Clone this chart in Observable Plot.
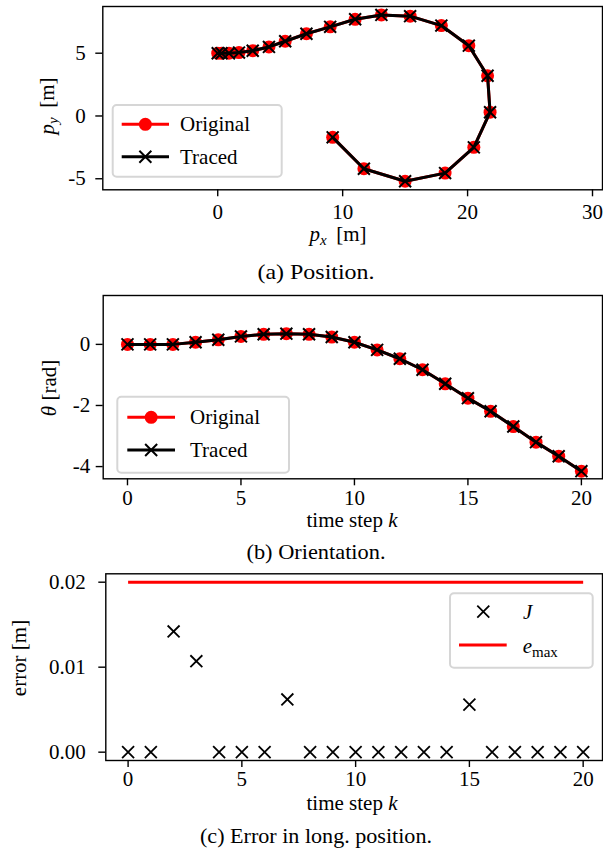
<!DOCTYPE html>
<html><head><meta charset="utf-8">
<script src="https://cdn.jsdelivr.net/npm/d3@7"></script>
<script src="https://cdn.jsdelivr.net/npm/@observablehq/plot@0.6"></script>
<style>
body{margin:0;background:#fff;}
#wrap{position:relative;width:603px;height:851px;overflow:hidden;background:#fff;}
#wrap > svg{position:absolute;left:0;}
#wrap svg text{font-family:"Liberation Serif","Times New Roman",serif;}
</style></head><body><div id="wrap"></div>
<script>
// ---------- data ----------
const steps = [0,1,2,3,4,5,6,7,8,9,10,11,12,13,14,15,16,17,18,19,20];
const origPx   = [0, 0.3, 0.9, 1.7, 2.8, 4.1, 5.4, 7.1, 9.0, 11.0, 13.1, 15.4, 17.9, 20.1, 21.6, 21.8, 20.5, 18.2, 15.0, 11.7, 9.2];
const origPy   = [5.0, 5.0, 5.0, 5.05, 5.2, 5.5, 5.95, 6.55, 7.1, 7.7, 8.05, 7.95, 7.2, 5.6, 3.2, 0.3, -2.5, -4.55, -5.2, -4.2, -1.7];
const tracedPx = [0, 0.3, 0.9, 1.7, 2.8, 4.1, 5.4, 7.1, 9.0, 11.0, 13.1, 15.4, 17.9, 20.1, 21.6, 21.8, 20.5, 18.2, 15.0, 11.7, 9.2];
const tracedPy = [5.0, 5.0, 5.0, 5.05, 5.2, 5.5, 5.95, 6.55, 7.1, 7.7, 8.05, 7.95, 7.2, 5.6, 3.2, 0.3, -2.5, -4.55, -5.2, -4.2, -1.7];
const origTheta   = [0, 0, 0, 0.07, 0.15, 0.26, 0.33, 0.35, 0.33, 0.24, 0.07, -0.18, -0.47, -0.83, -1.29, -1.76, -2.19, -2.69, -3.2, -3.66, -4.15];
const tracedTheta = [0, 0, 0, 0.07, 0.15, 0.26, 0.33, 0.35, 0.33, 0.24, 0.07, -0.18, -0.47, -0.83, -1.29, -1.76, -2.19, -2.69, -3.2, -3.66, -4.15];
const errorJ = [0, 0, 0.0142, 0.0107, 0, 0, 0, 0.0062, 0, 0, 0, 0, 0, 0, 0, 0.0056, 0, 0, 0, 0, 0];
const eMaxK = [0, 20];
const eMaxVal = [0.02, 0.02];
const pxTicks = [0, 10, 20, 30];
const pyTicks = [-5, 0, 5];
const kTicks = [0, 5, 10, 15, 20];
const thetaTicks = [-4, -2, 0];
const errTicks = [0, 0.01, 0.02];
const legendPos = ["Original", "Traced"];
const legendErr = ["J", "e", "max"];
const captions = ["(a) Position.", "(b) Orientation.", "(c) Error in long. position."];

// ---------- tables ----------
const origPos = steps.map((k, i) => ({k, px: origPx[i], py: origPy[i]}));
const tracedPos = steps.map((k, i) => ({k, px: tracedPx[i], py: tracedPy[i]}));
const origTh = steps.map((k, i) => ({k, th: origTheta[i]}));
const tracedTh = steps.map((k, i) => ({k, th: tracedTheta[i]}));
const errData = steps.map((k, i) => ({k, e: errorJ[i]}));
const eMaxData = eMaxK.map((k, i) => ({k, e: eMaxVal[i]}));

const FONT = '"Liberation Serif", "Times New Roman", serif';
const FS = 21;
const wrap = document.getElementById("wrap");
const style = {fontFamily: FONT, fontSize: FS + "px", background: "transparent", overflow: "visible", color: "black"};
const fmtInt = d => String(d);
const ax = {tickSize: 7, fontSize: FS, fontFamily: FONT, label: null, strokeWidth: 1.4};

function place(svg, top) { svg.style.top = top + "px"; wrap.appendChild(svg); }

// ---------- (a) position ----------
const p1 = Plot.plot({
  width: 603, height: 260,
  marginTop: 6, marginBottom: 70.7, marginLeft: 102.3, marginRight: 1,
  style,
  x: {domain: [-9.2, 30.8]},
  y: {domain: [-5.88, 8.72]},
  marks: [
    Plot.line(origPos, {x: "px", y: "py", stroke: "red", strokeWidth: 3}),
    Plot.dot(origPos, {x: "px", y: "py", r: 6.5, fill: "red"}),
    Plot.line(tracedPos, {x: "px", y: "py", stroke: "black", strokeWidth: 3}),
    Plot.dot(tracedPos, {x: "px", y: "py", symbol: "times", r: 5.5, stroke: "black", strokeWidth: 2}),
    Plot.frame({stroke: "black", strokeWidth: 1.4}),
    Plot.axisX({...ax, ticks: pxTicks, tickPadding: 7, tickFormat: fmtInt}),
    Plot.axisY({...ax, ticks: pyTicks, tickPadding: 10, tickFormat: fmtInt})
  ]
});
place(p1, 0);

// ---------- (b) orientation ----------
const p2 = Plot.plot({
  width: 603, height: 260,
  marginTop: 10, marginBottom: 66.7, marginLeft: 102.7, marginRight: 1,
  style,
  x: {domain: [-1.07, 20.93]},
  y: {domain: [-4.4, 1.6]},
  marks: [
    Plot.line(origTh, {x: "k", y: "th", stroke: "red", strokeWidth: 3}),
    Plot.dot(origTh, {x: "k", y: "th", r: 6.5, fill: "red"}),
    Plot.line(tracedTh, {x: "k", y: "th", stroke: "black", strokeWidth: 3}),
    Plot.dot(tracedTh, {x: "k", y: "th", symbol: "times", r: 5.5, stroke: "black", strokeWidth: 2}),
    Plot.frame({stroke: "black", strokeWidth: 1.4}),
    Plot.axisX({...ax, ticks: kTicks, tickPadding: 4, tickFormat: fmtInt}),
    Plot.axisY({...ax, ticks: thetaTicks, tickPadding: 6, tickFormat: fmtInt})
  ]
});
place(p2, 285);

// ---------- (c) error ----------
const p3 = Plot.plot({
  width: 603, height: 260,
  marginTop: 8.3, marginBottom: 65, marginLeft: 105.3, marginRight: 1,
  style,
  x: {domain: [-0.98, 20.85]},
  y: {domain: [-0.00098, 0.020988]},
  marks: [
    Plot.dot(errData, {x: "k", y: "e", symbol: "times", r: 5.5, stroke: "black", strokeWidth: 1.8}),
    Plot.line(eMaxData, {x: "k", y: "e", stroke: "red", strokeWidth: 3, strokeLinecap: "butt"}),
    Plot.frame({stroke: "black", strokeWidth: 1.4}),
    Plot.axisX({...ax, ticks: kTicks, tickPadding: 4, tickFormat: fmtInt}),
    Plot.axisY({...ax, ticks: errTicks, tickPadding: 13, tickFormat: d3.format(".2f")})
  ]
});
place(p3, 565);

// ---------- overlay: labels, legends, captions ----------
const ov = d3.create("svg").attr("width", 603).attr("height", 851)
  .style("top", "0px").style("pointer-events", "none")
  .attr("font-family", FONT).attr("font-size", FS).attr("fill", "black");

function label(x, y, rot, parts, anchor = "middle") {
  const t = ov.append("text").attr("text-anchor", anchor)
    .attr("transform", `translate(${x},${y})` + (rot ? ` rotate(${rot})` : ""));
  parts.forEach(p => {
    const s = t.append("tspan").text(p.t);
    if (p.it) s.attr("font-style", "italic");
    if (p.fs) s.attr("font-size", p.fs);
    if (p.dy) s.attr("dy", p.dy);
  });
  return t;
}

// axis labels
label(54, 106, -90, [{t: "p", it: true}, {t: "y", it: true, fs: 15, dy: 4}, {t: "\u2009 [m]", dy: -4}]);
label(338, 241, 0, [{t: "p", it: true}, {t: "x", it: true, fs: 15, dy: 4}, {t: "\u2009 [m]", dy: -4}]);
label(56, 388, -90, [{t: "θ", it: true}, {t: " [rad]"}]);
label(352, 527, 0, [{t: "time step "}, {t: "k", it: true}]);
label(26, 658, -90, [{t: "error [m]"}]);
label(352, 810, 0, [{t: "time step "}, {t: "k", it: true}]);

// captions
const capW = [117, 139, 232];
const capY = [279, 559, 843];
captions.forEach((c, i) => {
  ov.append("text").attr("x", 316 - capW[i] / 2).attr("y", capY[i]).attr("font-size", 21)
    .attr("textLength", capW[i]).attr("lengthAdjust", "spacingAndGlyphs").text(c);
});

const crossPath = d3.symbol(d3.symbolTimes, 95.7)();
const legBox = (x, y, w, h) => ov.append("rect").attr("x", x).attr("y", y).attr("width", w).attr("height", h)
  .attr("rx", 4).attr("fill", "white").attr("fill-opacity", 0.8).attr("stroke", "#d6d6d6").attr("stroke-width", 2);

function posLegend(bx, by, bw, bh, hx1, hx2, y1, y2, tx, b1, b2) {
  legBox(bx, by, bw, bh);
  const mx = (hx1 + hx2) / 2;
  ov.append("line").attr("x1", hx1).attr("x2", hx2).attr("y1", y1).attr("y2", y1).attr("stroke", "red").attr("stroke-width", 3);
  ov.append("circle").attr("cx", mx).attr("cy", y1).attr("r", 6.5).attr("fill", "red");
  ov.append("text").attr("x", tx).attr("y", b1).text(legendPos[0]);
  ov.append("line").attr("x1", hx1).attr("x2", hx2).attr("y1", y2).attr("y2", y2).attr("stroke", "black").attr("stroke-width", 3);
  ov.append("path").attr("d", crossPath).attr("transform", `translate(${mx},${y2})`).attr("stroke", "black").attr("stroke-width", 2).attr("fill", "none");
  ov.append("text").attr("x", tx).attr("y", b2).text(legendPos[1]);
}
posLegend(112.7, 105, 169, 71.7, 121.7, 169, 124.3, 156.7, 180, 131, 164);
posLegend(117.3, 396.7, 171.7, 76, 127.3, 175, 417.3, 450, 190, 424, 457);

// error legend
legBox(450, 593.3, 142.7, 74.4);
ov.append("path").attr("d", crossPath).attr("transform", `translate(483.3,611.7)`).attr("stroke", "black").attr("stroke-width", 1.8).attr("fill", "none");
ov.append("text").attr("x", 523).attr("y", 619).attr("font-style", "italic").text(legendErr[0]);
ov.append("line").attr("x1", 459).attr("x2", 506.7).attr("y1", 645).attr("y2", 645).attr("stroke", "red").attr("stroke-width", 3);
{
  const t = ov.append("text").attr("x", 522.7).attr("y", 653);
  t.append("tspan").attr("font-style", "italic").text(legendErr[1]);
  t.append("tspan").attr("font-size", 15).attr("dy", 4).text(legendErr[2]);
}

wrap.appendChild(ov.node());
</script>
</body></html>
